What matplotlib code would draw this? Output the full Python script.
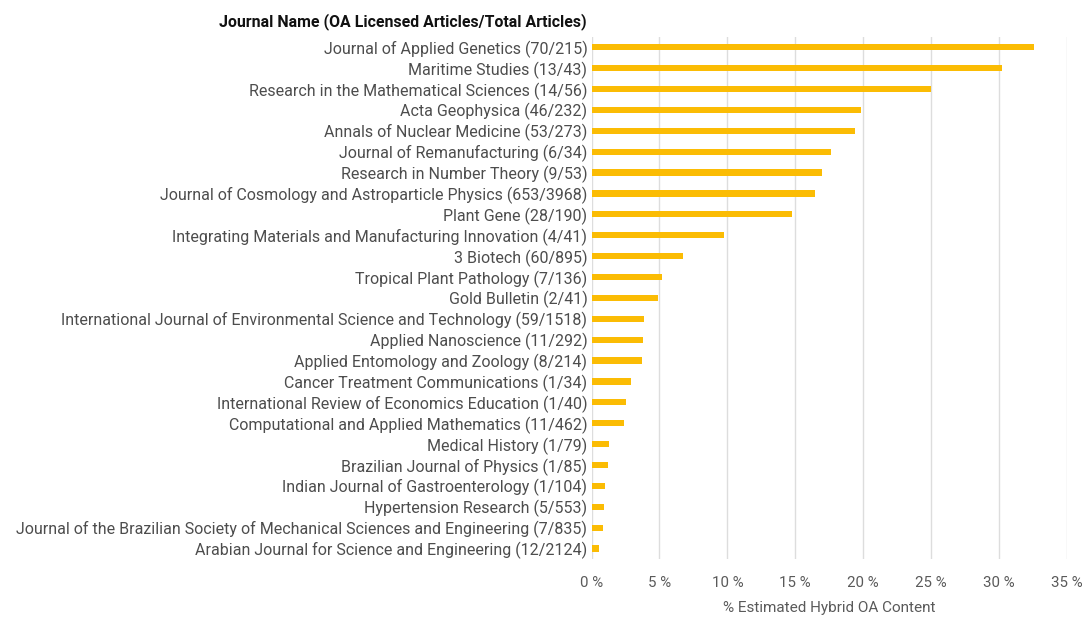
import matplotlib.pyplot as plt

journals = [
    "Journal of Applied Genetics (70/215)",
    "Maritime Studies (13/43)",
    "Research in the Mathematical Sciences (14/56)",
    "Acta Geophysica (46/232)",
    "Annals of Nuclear Medicine (53/273)",
    "Journal of Remanufacturing (6/34)",
    "Research in Number Theory (9/53)",
    "Journal of Cosmology and Astroparticle Physics (653/3968)",
    "Plant Gene (28/190)",
    "Integrating Materials and Manufacturing Innovation (4/41)",
    "3 Biotech (60/895)",
    "Tropical Plant Pathology (7/136)",
    "Gold Bulletin (2/41)",
    "International Journal of Environmental Science and Technology (59/1518)",
    "Applied Nanoscience (11/292)",
    "Applied Entomology and Zoology (8/214)",
    "Cancer Treatment Communications (1/34)",
    "International Review of Economics Education (1/40)",
    "Computational and Applied Mathematics (11/462)",
    "Medical History (1/79)",
    "Brazilian Journal of Physics (1/85)",
    "Indian Journal of Gastroenterology (1/104)",
    "Hypertension Research (5/553)",
    "Journal of the Brazilian Society of Mechanical Sciences and Engineering (7/835)",
    "Arabian Journal for Science and Engineering (12/2124)",
]

oa_pct = [32.56, 30.23, 25.0, 19.83, 19.41, 17.65, 16.98, 16.46, 14.74, 9.76,
          6.70, 5.15, 4.88, 3.89, 3.77, 3.74, 2.94, 2.50, 2.38, 1.27,
          1.18, 0.96, 0.90, 0.84, 0.56]

xticks = [0, 5, 10, 15, 20, 25, 30, 35]

plt.rcParams["font.family"] = ["Roboto", "DejaVu Sans"]

fig = plt.figure(figsize=(10.86, 6.18), dpi=100)
ax = fig.add_axes([0.5447, 0.0955, 0.4378, 0.845])

y = range(len(journals))
ax.barh(y, oa_pct, height=0.3, color="#fbbc04", zorder=2)

ax.set_ylim(len(journals) - 0.5, -0.5)
ax.set_xlim(0, 35)
ax.set_yticks(list(y))
ax.set_yticklabels(journals, fontsize=11.5, color="#4d4d4d")
ax.set_xticks(xticks)
ax.set_xticklabels([f"{t} %" for t in xticks], fontsize=10.8, color="#5a5a5a")
ax.tick_params(length=0, pad=3)
ax.tick_params(axis="x", pad=12)

ax.grid(axis="x", color="#dddddd", linewidth=1, zorder=0)
for s in ax.spines.values():
    s.set_visible(False)

ax.set_xlabel("% Estimated Hybrid OA Content", fontsize=11, color="#5a5a5a", labelpad=8)
fig.text(0.5405, 0.965, "Journal Name (OA Licensed Articles/Total Articles)",
         ha="right", va="center", fontsize=11.4, fontweight="bold", color="#111111")

fig.savefig("out.png", dpi=100)
